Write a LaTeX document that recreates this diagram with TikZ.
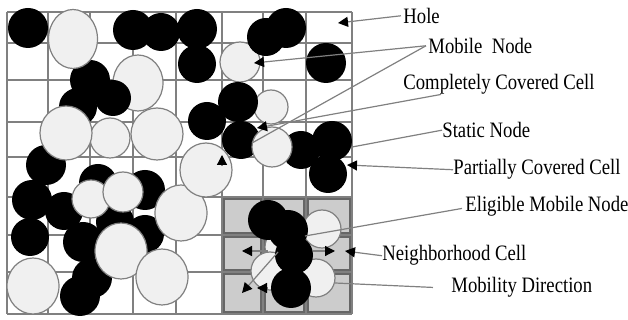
\documentclass[tikz,border=0pt]{standalone}
\usepackage{fontspec}
\setmainfont{Liberation Serif}[FakeStretch=0.85]
\usetikzlibrary{arrows.meta}

\begin{document}
\begin{tikzpicture}[x=0.5pt, y=-0.5pt,
  blk/.style={fill=black},
  lgt/.style={fill=gray!12, draw=gray, line width=0.6pt},
  lbl/.style={draw=gray, line width=0.6pt},
  ptr/.style={lbl, -{Triangle[length=5pt, width=5pt, color=black]}},
  txt/.style={anchor=base west, inner sep=0pt, font=\fontsize{11}{13}\selectfont}]
\useasboundingbox (0,0) rectangle (628,320);
% grid
\foreach \x in {7,48,90,133,176,222,263,306,352}
  \draw [gray, line width=0.6pt] (\x,12) -- (\x,314);
\foreach \y in {12,43,80,122,157,197,235,272,314}
  \draw [gray, line width=0.6pt] (7,\y) -- (352,\y);
% neighborhood cells
\foreach \x/\xx in {222/263,263/306,306/352}
  \foreach \y/\yy in {197/235,235/272,272/314}
    \filldraw [fill=gray!40, draw=gray!80!black, line width=0.6pt] (\x+2,\y+2) rectangle (\xx-2,\yy-2);
% mobile nodes under static ones
\draw [lgt] (138,83) ellipse [x radius=25, y radius=28];
\draw [lgt] (271,107) circle [radius=17];
\draw [lgt] (240,62) circle [radius=20];
\draw [lgt] (283,247) circle [radius=18];
\draw [lgt] (322,229) circle [radius=19];
\draw [lgt] (270,271) circle [radius=19];
\draw [lgt] (316,278) circle [radius=19];
% static nodes
\fill [blk] (28,28) circle [radius=20];
\fill [blk] (133,30) circle [radius=20];
\fill [blk] (161,32) circle [radius=19];
\fill [blk] (197,29) circle [radius=20];
\fill [blk] (197,64) circle [radius=19];
\fill [blk] (266,37) circle [radius=19];
\fill [blk] (286,28) circle [radius=20];
\fill [blk] (326,63) circle [radius=20];
\fill [blk] (90,80) circle [radius=20];
\fill [blk] (78,107) circle [radius=19];
\fill [blk] (113,98) circle [radius=18];
\fill [blk] (207,121) circle [radius=19];
\fill [blk] (238,102) circle [radius=20];
\fill [blk] (241,140) circle [radius=19];
\fill [blk] (301,150) circle [radius=19];
\fill [blk] (332,141) circle [radius=20];
\fill [blk] (328,174) circle [radius=19];
\fill [blk] (46,165) circle [radius=20];
\fill [blk] (32,200) circle [radius=20];
\fill [blk] (30,237) circle [radius=19];
\fill [blk] (64,211) circle [radius=19];
\fill [blk] (98,183) circle [radius=19];
\fill [blk] (145,190) circle [radius=20];
\fill [blk] (115,222) circle [radius=19];
\fill [blk] (83,242) circle [radius=20];
\fill [blk] (145,234) circle [radius=19];
\fill [blk] (92,278) circle [radius=20];
\fill [blk] (80,296) circle [radius=20];
\fill [blk] (268,220) circle [radius=20];
\fill [blk] (288,230) circle [radius=20];
\fill [blk] (294,255) circle [radius=19];
\fill [blk] (291,288) circle [radius=20];
% mobile nodes
\draw [lgt] (73,39) ellipse [x radius=24.5, y radius=29.5];
\draw [lgt] (110,138) circle [radius=20];
\draw [lgt] (66,133) ellipse [x radius=26, y radius=27];
\draw [lgt] (157,134) ellipse [x radius=26, y radius=26];
\draw [lgt] (272,147) circle [radius=20];
\draw [lgt] (181,213) ellipse [x radius=26, y radius=28];
\draw [lgt] (206,170) ellipse [x radius=26, y radius=27];
\draw [lgt] (91,199) circle [radius=19];
\draw [lgt] (123,192) circle [radius=20];
\draw [lgt] (121,251) ellipse [x radius=26, y radius=28];
\draw [lgt] (33,286) ellipse [x radius=26, y radius=28];
\draw [lgt] (162,277) ellipse [x radius=26, y radius=28];
% mobility directions
\draw [ptr] (268,251) -- (242,251);
\draw [ptr] (313,251) -- (335,251);
\draw [ptr] (278,252) -- (242,293);
\draw [ptr] (268,288) -- (257,288);
\draw [ptr] (222,165) -- (222,155);
% labels
\node [txt] (hole) at (403,23.3) {Hole};
\node [txt] (mobile) at (428,53.3) {Mobile~~Node};
\node [txt] (covered) at (403,89.3) {Completely Covered Cell};
\node [txt] (static) at (442,137.7) {Static Node};
\node [txt] (partial) at (453,175) {Partially Covered Cell};
\node [txt] (eligible) at (465,211.7) {Eligible Mobile Node};
\node [txt] (neighbor) at (382,261) {Neighborhood Cell};
\node [txt] (direction) at (451,292.7) {Mobility Direction};
\coordinate (holept) at (338,23);
\coordinate (mobpt) at (254,63);
\coordinate (mobpt2) at (252,143);
\coordinate (covpt) at (257,128);
\coordinate (statpt) at (352,147);
\coordinate (partpt) at (347,165);
\coordinate (eligpt) at (305,236);
\coordinate (neighpt) at (345,251);
\coordinate (dirpt) at (335,283);
\draw [ptr] ([xshift=-1pt]hole.west) -- (holept);
\draw [ptr] ([xshift=-1pt]mobile.west) -- (mobpt);
\draw [lbl] ([xshift=-1pt]mobile.west) -- (mobpt2);
\draw [ptr] ([xshift=19pt]covered.south west) -- (covpt);
\draw [lbl] (static.west) -- (statpt);
\draw [ptr] (partial.west) -- (partpt);
\draw [lbl] ([xshift=-1.5pt, yshift=-1pt]eligible.west) -- (eligpt);
\draw [ptr] (neighbor.west) -- (neighpt);
\draw [lbl] ([xshift=-9pt]direction.west) -- (dirpt);
\end{tikzpicture}
\end{document}
